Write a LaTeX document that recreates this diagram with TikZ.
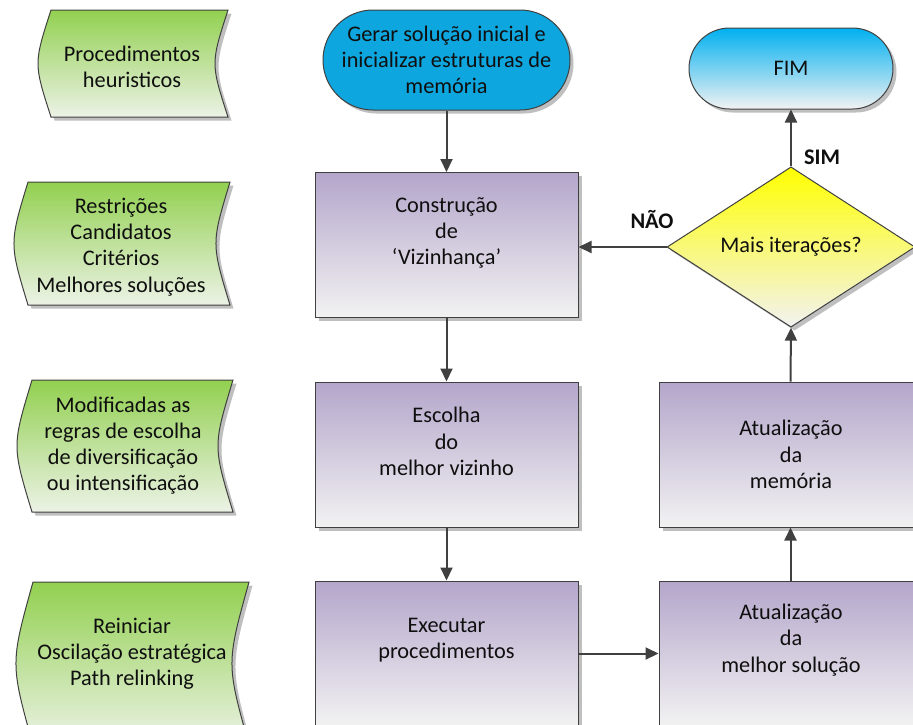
\documentclass[tikz,border=0pt]{standalone}
\usepackage{fontspec}
\setmainfont{Carlito}
\usetikzlibrary{arrows.meta,shapes.geometric,shapes.misc,shadows}

\definecolor{edge}{RGB}{64,64,64}
\definecolor{lilac}{RGB}{180,166,203}
\definecolor{paper}{RGB}{242,242,242}
\definecolor{leaf}{RGB}{146,208,80}
\definecolor{leafpale}{RGB}{236,242,230}
\definecolor{sky}{RGB}{0,176,240}
\definecolor{skysolid}{RGB}{14,166,222}
\definecolor{lemon}{RGB}{255,255,0}
\definecolor{ink}{RGB}{15,15,15}

\newcommand\flowfont{\fontsize{22.3}{26.2}\selectfont}

\tikzset{
  softshadow/.style={drop shadow={shadow xshift=3.5pt, shadow yshift=-3.5pt, fill=black, opacity=0.25}},
  outline/.style={draw=edge, line width=1pt},
  procbox/.style={rectangle, outline, top color=lilac, bottom color=paper,
    minimum width=263pt, minimum height=145pt, inner sep=0pt, softshadow},
  datashape/.style={outline, top color=leaf, bottom color=leafpale, softshadow},
  startterm/.style={rounded rectangle, outline, fill=skysolid,
    minimum width=247pt, minimum height=100pt, inner sep=0pt, softshadow,
    font=\flowfont, text=ink, align=center},
  endterm/.style={rounded rectangle, outline, top color=sky, bottom color=paper,
    minimum width=204pt, minimum height=81pt, inner sep=0pt, softshadow,
    font=\flowfont, text=ink},
  decision/.style={diamond, outline, top color=lemon, bottom color=paper,
    minimum width=248pt, minimum height=150pt, inner sep=0pt, softshadow,
    font=\flowfont, text=ink},
  flowtext/.style={font=\flowfont, text=ink, align=center, inner sep=0pt},
  branchtext/.style={font=\flowfont\bfseries, text=ink, inner sep=0pt},
  flow/.style={draw=edge, line width=2pt, -{Triangle[length=13pt,width=12pt]}},
}

\begin{document}
\begin{tikzpicture}[x=1pt, y=-1pt]
\useasboundingbox (0,0) rectangle (913,724);
\clip (0,0) rectangle (913,724);

% stored-data shapes on the left
\path[datashape] (51,10) -- (228,10) .. controls (210.7,63.5) .. (228,117)
  -- (51,117) .. controls (33.7,63.5) .. (51,10) -- cycle;
\path[datashape] (28,182) -- (230,182) .. controls (211.3,243.5) .. (230,305)
  -- (28,305) .. controls (9.3,243.5) .. (28,182) -- cycle;
\path[datashape] (32,380) -- (233,380) .. controls (213,446) .. (233,512)
  -- (32,512) .. controls (12,446) .. (32,380) -- cycle;
\path[datashape] (33,582) -- (249,582) .. controls (226.3,663.5) .. (249,745)
  -- (33,745) .. controls (10.3,663.5) .. (33,582) -- cycle;

\node[flowtext] (g1) at (132,67) {Procedimentos\\heuristicos};
\node[flowtext] (g2) at (121,247) {Restrições\\Candidatos\\Critérios\\Melhores soluções};
\node[flowtext] (g3) at (123,445.5) {Modificadas as\\regras de escolha\\de diversificação\\ou intensificação};
\node[flowtext] (g4) at (132,654) {Reiniciar\\Oscilação estratégica\\Path relinking};

% main flow
\node[startterm] (start) at (446.5,60) {Gerar solução inicial e\\inicializar estruturas de\\memória};
\node[procbox] (constr) at (446.5,245) {};
\node[procbox] (escolha) at (446.5,454.5) {};
\node[procbox] (exec) at (446.5,653.5) {};
\node[procbox] (melhor) at (790.5,653.5) {};
\node[procbox] (memoria) at (790.5,454.5) {};
\node[decision] (decide) at (791,247) {Mais iterações?};
\node[endterm] (fim) at (791,68.5) {FIM};

\node[flowtext] (constr-t) at (446.5,233) {Construção\\de\\‘Vizinhança’};
\node[flowtext] (escolha-t) at (446.5,441.5) {Escolha\\do\\melhor vizinho};
\node[flowtext] (exec-t) at (446.5,640.5) {Executar\\procedimentos};
\node[flowtext] (melhor-t) at (791,640) {Atualização\\da\\melhor solução};
\node[flowtext] (memoria-t) at (791,454.5) {Atualização\\da\\memória};

% connectors
\draw[flow] (start.south) -- (constr.north);
\draw[flow] (constr.south) -- (escolha.north);
\draw[flow] (escolha.south) -- (exec.north);
\draw[flow] (exec.east) -- (melhor.west);
\draw[flow] (melhor.north) -- (memoria.south);
\draw[flow] (memoria.north) -- (decide.south);
\draw[flow] (decide.north) -- (fim.south);
\draw[flow] (decide.west) -- (decide.west -| constr.east);

\node[branchtext] (sim) at (822,157) {SIM};
\node[branchtext] (nao) at (652,219) {NÃO};
\end{tikzpicture}
\end{document}
